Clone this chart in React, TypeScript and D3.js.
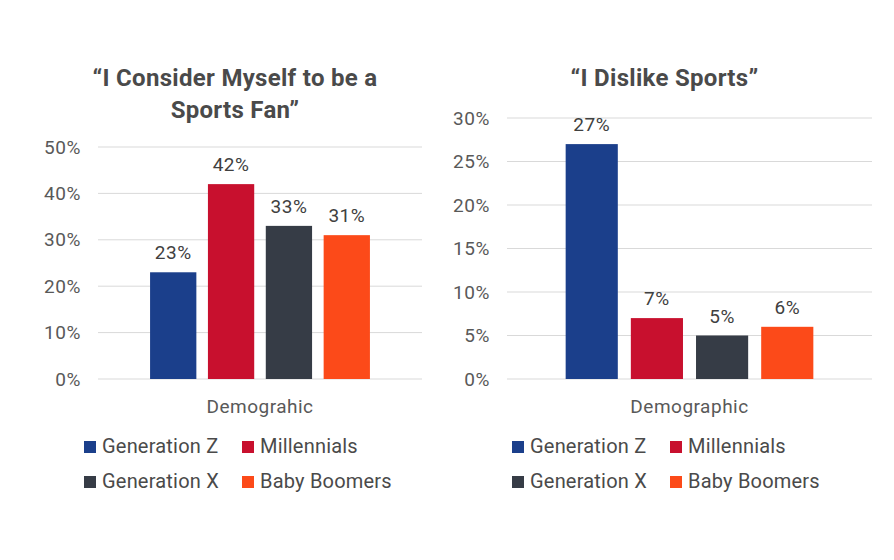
import * as d3 from 'd3'

const categories = ['Generation Z', 'Millennials', 'Generation X', 'Baby Boomers']
const colors = ['#1b3f8b', '#c8102e', '#363c46', '#fc4a19']

const fanTitle = ['\u201CI Consider Myself to be a', 'Sports Fan\u201D']
const fanValues = [23, 42, 33, 31]
const fanTicks = [0, 10, 20, 30, 40, 50]
const fanAxisTitle = 'Demograhic'

const dislikeTitle = ['\u201CI Dislike Sports\u201D']
const dislikeValues = [27, 7, 5, 6]
const dislikeTicks = [0, 5, 10, 15, 20, 25, 30]
const dislikeAxisTitle = 'Demographic'

const font = 'Roboto, sans-serif'

type ChartProps = {
  title: string[]
  values: number[]
  ticks: number[]
  axisTitle: string
  x0: number
  x1: number
  yTop: number
  legendX: number
}

function BarChart({ title, values, ticks, axisTitle, x0, x1, yTop, legendX }: ChartProps) {
  const y0 = 379
  const y = d3.scaleLinear().domain([0, d3.max(ticks) as number]).range([y0, yTop])
  const x = d3.scaleBand<string>().domain(categories).range([x0, x1]).paddingInner(0.2).paddingOuter(0.9)
  const mid = (x0 + x1) / 2
  const titleX = mid - 25
  const titleY = 86

  return (
    <g>
      {title.map((t, i) => (
        <text key={i} x={titleX} y={titleY + i * 32} textAnchor="middle" fontSize={24} fontWeight="bold" letterSpacing={0.3} fill="#4a4a4a">
          {t}
        </text>
      ))}
      {ticks.map((t) => (
        <g key={t}>
          <line x1={x0} x2={x1} y1={y(t)} y2={y(t)} stroke="#d9d9d9" strokeWidth={1} />
          <text x={x0 - 17} y={y(t)} dy="0.35em" textAnchor="end" fontSize={19} letterSpacing={0.6} fill="#595959">
            {t}%
          </text>
        </g>
      ))}
      {values.map((v, i) => (
        <g key={categories[i]}>
          <rect x={x(categories[i])} y={y(v)} width={x.bandwidth()} height={y0 - y(v)} fill={colors[i]} />
          <text x={(x(categories[i]) as number) + x.bandwidth() / 2} y={y(v) - 13} textAnchor="middle" fontSize={19} letterSpacing={0.5} fill="#404040">
            {v}%
          </text>
        </g>
      ))}
      <text x={mid} y={413} textAnchor="middle" fontSize={19} letterSpacing={0.5} fill="#595959">
        {axisTitle}
      </text>
      {categories.map((c, i) => {
        const lx = legendX + (i % 2) * 158
        const ly = 453 + Math.floor(i / 2) * 35
        return (
          <g key={c}>
            <rect x={lx} y={ly - 12} width={12} height={12} fill={colors[i]} />
            <text x={lx + 18} y={ly} fontSize={20} letterSpacing={0.2} fill="#4a4a4a">
              {c}
            </text>
          </g>
        )
      })}
    </g>
  )
}

export default function App() {
  return (
    <svg width={894} height={560} style={{ position: 'absolute', left: 0, top: 0, background: '#fff' }} fontFamily={font}>
      <rect width={894} height={560} fill="#fff" />
      <BarChart title={fanTitle} values={fanValues} ticks={fanTicks} axisTitle={fanAxisTitle} x0={98} x1={422} yTop={147} legendX={84} />
      <BarChart title={dislikeTitle} values={dislikeValues} ticks={dislikeTicks} axisTitle={dislikeAxisTitle} x0={507} x1={872} yTop={118} legendX={512} />
    </svg>
  )
}
